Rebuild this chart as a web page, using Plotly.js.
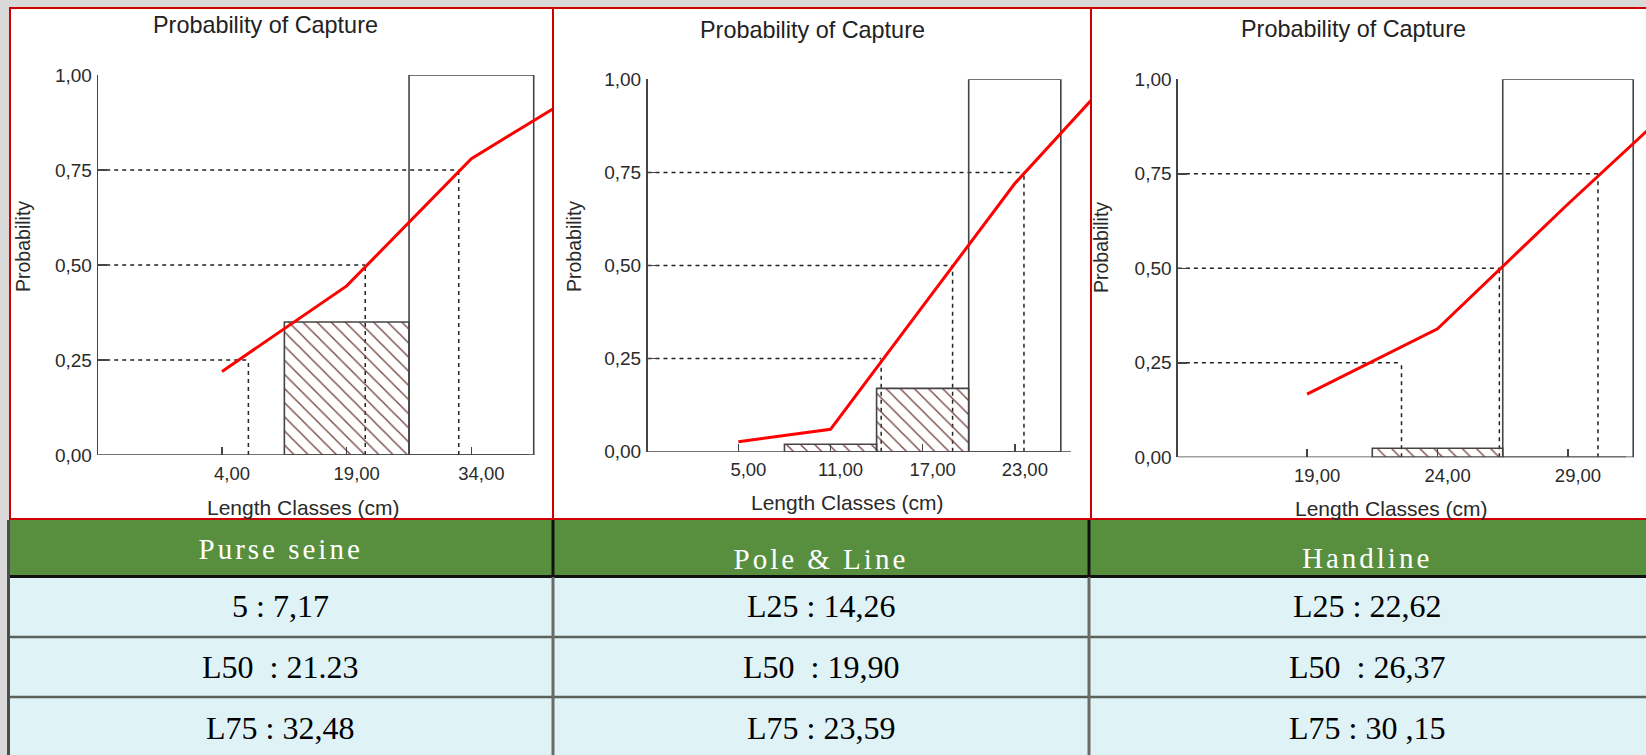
<!DOCTYPE html>
<html>
<head>
<meta charset="utf-8">
<script src="https://cdn.plot.ly/plotly-3.0.1.min.js"></script>
<style>html,body{margin:0;padding:0;background:#d9d9d9;overflow:hidden}</style>
</head>
<body>
<div id="chart" style="width:1646px;height:755px"></div>
<script>
// ---------------- DATA ----------------
const gears = ["Purse seine", "Pole & Line", "Handline"];
const rowL25 = ["5 : 7,17", "L25 : 14,26", "L25 : 22,62"];
const rowL50 = ["L50  : 21.23", "L50  : 19,90", "L50  : 26,37"];
const rowL75 = ["L75 : 32,48", "L75 : 23,59", "L75 : 30 ,15"];

const chartTitle = "Probability of Capture";
const xTitle = "Length Classes (cm)";
const yTitle = "Probability";

const yTickVals = [0, 0.25, 0.5, 0.75, 1];
const yTickText = ["0,00", "0,25", "0,50", "0,75", "1,00"];

// Purse seine
const classes1 = [4, 19, 34, 49];
const prob1 = [0.22, 0.445, 0.78, 0.98];
const hatchX1 = [19], hatchY1 = [0.35];
const openX1 = [34], openY1 = [1.0];
const lenAt1 = [7.17, 21.23, 32.48];
const xTicks1 = [4, 19, 34], xTickText1 = ["4,00", "19,00", "34,00"];

// Pole & Line
const classes2 = [5, 11, 17, 23, 29];
const prob2 = [0.027, 0.06, 0.39, 0.72, 0.99];
const hatchX2 = [11, 17], hatchY2 = [0.02, 0.17];
const openX2 = [23], openY2 = [1.0];
const lenAt2 = [14.3, 18.95, 23.6];
const xTicks2 = [5, 11, 17, 23], xTickText2 = ["5,00", "11,00", "17,00", "23,00"];

// Handline
const classes3 = [19, 24, 29, 34];
const prob3 = [0.167, 0.34, 0.67, 0.99];
const hatchX3 = [24], hatchY3 = [0.024];
const openX3 = [29], openY3 = [1.0];
const lenAt3 = [22.62, 26.37, 30.15];
const xTicks3 = [19, 24, 29], xTickText3 = ["19,00", "24,00", "29,00"];

const classWidth = [15, 6, 5];
const probLevels = [0.25, 0.5, 0.75];

// ---------------- LAYOUT HELPERS ----------------
const W = 1646, H = 755;
const PX = x => x / W;
const PY = y => 1 - y / H;
const sans = "Liberation Sans, Arial, sans-serif";
const serif = "Liberation Serif, Times New Roman, serif";

const charts = [
  {classes: classes1, prob: prob1, hx: hatchX1, hy: hatchY1, ox: openX1, oy: openY1, L: lenAt1,
   tv: xTicks1, tt: xTickText1, w: classWidth[0],
   dom: [98.2, 552], ydom: [455, 75], xr: [-10.9, 43.7], xend: 40.9,
   title: [265, 25], xt: [303, 507], yt: [23, 247]},
  {classes: classes2, prob: prob2, hx: hatchX2, hy: hatchY2, ox: openX2, oy: openY2, L: lenAt2,
   tv: xTicks2, tt: xTickText2, w: classWidth[1],
   dom: [647.5, 1090], ydom: [451.7, 79.3], xr: [-0.92, 27.9], xend: 26.66,
   title: [812, 30], xt: [848, 502], yt: [574, 247]},
  {classes: classes3, prob: prob3, hx: hatchX3, hy: hatchY3, ox: openX3, oy: openY3, L: lenAt3,
   tv: xTicks3, tt: xTickText3, w: classWidth[2],
   dom: [1177.9, 1646], ydom: [457.3, 79.3], xr: [14.05, 31.99], xend: 31.23,
   title: [1353, 29], xt: [1391, 508], yt: [1101, 248]}
];

const data = [];
const shapes = [];
const annotations = [];
const layout = {
  width: W, height: H,
  margin: {l: 0, r: 0, t: 0, b: 0},
  paper_bgcolor: "#d9d9d9",
  plot_bgcolor: "rgba(0,0,0,0)",
  showlegend: false,
  barmode: "overlay",
  font: {family: sans, color: "#2a2a2a", size: 18}
};

// panels (white with red border)
[[10, 553], [553, 1091], [1091, 1700]].forEach(p => {
  shapes.push({type: "rect", xref: "paper", yref: "paper", layer: "below",
    x0: PX(p[0]), x1: PX(p[1]), y0: PY(519), y1: PY(8),
    fillcolor: "#ffffff", line: {color: "#d00000", width: 2}});
});

charts.forEach((c, i) => {
  const n = i === 0 ? "" : String(i + 1);
  const xa = "x" + n, ya = "y" + n;
  layout["xaxis" + n] = {
    domain: [PX(c.dom[0]), PX(c.dom[1])], range: c.xr, anchor: ya,
    showgrid: false, zeroline: false, showline: false,
    ticks: "inside", ticklen: 8, tickwidth: 1.5, tickcolor: "#444",
    tickvals: c.tv, ticktext: c.tt, tickfont: {size: 18.5, color: "#2a2a2a", family: sans},
    ticklabelstandoff: 5, ticklabelshift: 10, fixedrange: true
  };
  layout["yaxis" + n] = {
    domain: [PY(c.ydom[0]), PY(c.ydom[1])], range: [0, 1], anchor: xa,
    showgrid: false, zeroline: false, showline: true, linecolor: "#444", linewidth: 1.5,
    ticks: "inside", ticklen: 9, tickwidth: 1.5, tickcolor: "#444",
    tickvals: yTickVals, ticktext: yTickText, tickfont: {size: 19, color: "#2a2a2a", family: sans},
    ticklabelstandoff: 1, fixedrange: true
  };
  // hatched bars
  data.push({type: "bar", x: c.hx, y: c.hy, width: c.w, xaxis: xa, yaxis: ya,
    marker: {color: "rgba(0,0,0,0)", line: {color: "#444", width: 1.6},
      pattern: {shape: "\\", fgcolor: "#7b4a4a", bgcolor: "rgba(0,0,0,0)", size: 10, solidity: 0.14}},
    hoverinfo: "skip"});
  // open bars
  data.push({type: "bar", x: c.ox, y: c.oy, width: c.w, xaxis: xa, yaxis: ya,
    marker: {color: "rgba(0,0,0,0)", line: {color: "#444", width: 1.6}}, hoverinfo: "skip"});
  // probability curve
  data.push({type: "scatter", mode: "lines", x: c.classes, y: c.prob, xaxis: xa, yaxis: ya,
    line: {color: "#ff0000", width: 3}, hoverinfo: "skip"});
  // x axis line
  shapes.push({type: "line", xref: xa, yref: ya, x0: c.xr[0], x1: c.xend, y0: 0, y1: 0,
    line: {color: "#444", width: 1.6}, layer: "above"});
  // dashed reference lines
  c.L.forEach((lx, k) => {
    const lv = probLevels[k];
    shapes.push({type: "line", xref: xa, yref: ya, x0: c.xr[0], x1: lx, y0: lv, y1: lv,
      line: {color: "#222", width: 1.5, dash: "4px,4px"}, layer: "between"});
    shapes.push({type: "line", xref: xa, yref: ya, x0: lx, x1: lx, y0: 0, y1: lv,
      line: {color: "#222", width: 1.5, dash: "4px,4px"}, layer: "between"});
  });
  // titles
  annotations.push({xref: "paper", yref: "paper", x: PX(c.title[0]), y: PY(c.title[1]),
    xanchor: "center", yanchor: "middle", showarrow: false, text: chartTitle,
    font: {size: 23.4, color: "#222", family: sans}});
  annotations.push({xref: "paper", yref: "paper", x: PX(c.xt[0]), y: PY(c.xt[1]),
    xanchor: "center", yanchor: "middle", showarrow: false, text: xTitle,
    font: {size: 21, color: "#2a2a2a", family: sans}});
  annotations.push({xref: "paper", yref: "paper", x: PX(c.yt[0]), y: PY(c.yt[1]),
    xanchor: "center", yanchor: "middle", showarrow: false, text: yTitle, textangle: -90,
    font: {size: 19.5, color: "#2a2a2a", family: sans}});
});

// ---------------- TABLE ----------------
shapes.push({type: "rect", xref: "paper", yref: "paper", layer: "above",
  x0: PX(8), x1: PX(1700), y0: PY(576), y1: PY(520), fillcolor: "#588f3f", line: {width: 0}});
shapes.push({type: "rect", xref: "paper", yref: "paper", layer: "above",
  x0: PX(8), x1: PX(1700), y0: PY(770), y1: PY(576), fillcolor: "#dff3f7", line: {width: 0}});
[637, 697].forEach(y => shapes.push({type: "line", xref: "paper", yref: "paper", layer: "above",
  x0: PX(8), x1: PX(1700), y0: PY(y), y1: PY(y), line: {color: "#5c605a", width: 2.5}}));
shapes.push({type: "line", xref: "paper", yref: "paper", layer: "above",
  x0: PX(8), x1: PX(1700), y0: PY(576.5), y1: PY(576.5), line: {color: "#111", width: 3}});
shapes.push({type: "line", xref: "paper", yref: "paper", layer: "above",
  x0: PX(8.5), x1: PX(8.5), y0: PY(770), y1: PY(520), line: {color: "#4a4e48", width: 3}});
[553, 1089].forEach(x => {
  shapes.push({type: "line", xref: "paper", yref: "paper", layer: "above",
    x0: PX(x), x1: PX(x), y0: PY(576), y1: PY(520), line: {color: "#111", width: 3}});
  shapes.push({type: "line", xref: "paper", yref: "paper", layer: "above",
    x0: PX(x), x1: PX(x), y0: PY(770), y1: PY(577), line: {color: "#6a6a66", width: 3}});
});

const colX = [280, 821, 1367];
const headY = [549, 559, 558];
gears.forEach((g, i) => {
  annotations.push({xref: "paper", yref: "paper", x: PX(colX[i]), y: PY(headY[i]),
    xanchor: "center", yanchor: "middle", showarrow: false, text: g,
    font: {size: 29, color: "#ffffff", family: serif}});
});
[rowL25, rowL50, rowL75].forEach((row, r) => {
  const ry = [606, 667, 728][r];
  row.forEach((t, i) => {
    annotations.push({xref: "paper", yref: "paper", x: PX(colX[i]), y: PY(ry),
      xanchor: "center", yanchor: "middle", showarrow: false, text: t,
      font: {size: 32, color: "#000", family: serif}});
  });
});

layout.shapes = shapes;
layout.annotations = annotations;

Plotly.newPlot("chart", data, layout, {staticPlot: true, displayModeBar: false}).then(gd => {
  gd.querySelectorAll("text.annotation-text").forEach(t => {
    if (gears.includes(t.textContent)) t.style.letterSpacing = "3px";
  });
});
</script>
</body>
</html>
